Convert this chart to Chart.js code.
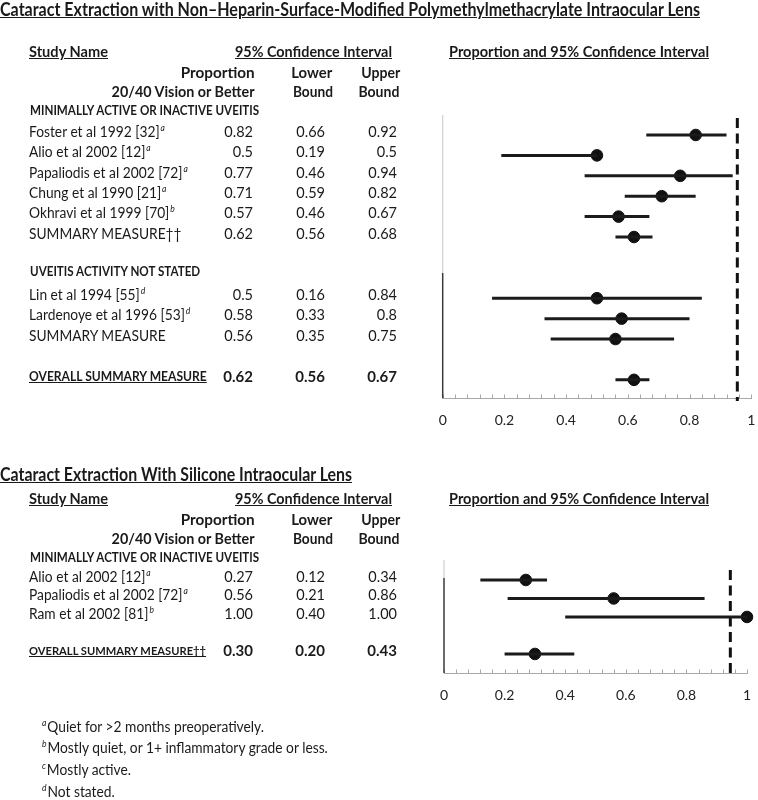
<!DOCTYPE html>
<html>
<head>
<meta charset="utf-8">
<script src="https://cdn.jsdelivr.net/npm/chart.js@4.4.1/dist/chart.umd.min.js"></script>
<style>
  body { margin: 0; background: #fff; }
  #page { position: relative; width: 758px; height: 800px; overflow: hidden; font-family: Lato, "Open Sans", sans-serif; color: #1a1a1a; }
  .t { position: absolute; white-space: nowrap; line-height: 1; }
  .sup { font-size: 9px; font-style: italic; position: relative; top: -6px; margin-left: 1px; }
  canvas { position: absolute; left: 0; }
</style>
</head>
<body>
<div id="page">
  <canvas id="pmmaChart" width="758" height="440" style="top:0"></canvas>
  <canvas id="siliChart" width="758" height="300" style="top:440px"></canvas>
</div>
<script>
// Data - PMMA lens (top panel)
const pmmaHeaders = ['MINIMALLY ACTIVE OR INACTIVE UVEITIS', 'UVEITIS ACTIVITY NOT STATED'];
const pmmaNames = ['Foster et al 1992 [32]', 'Alio et al 2002 [12]', 'Papaliodis et al 2002 [72]', 'Chung et al 1990 [21]',
  'Okhravi et al 1999 [70]', 'SUMMARY MEASURE\u2020\u2020', 'Lin et al 1994 [55]', 'Lardenoye et al 1996 [53]',
  'SUMMARY MEASURE', 'OVERALL SUMMARY MEASURE'];
const pmmaNotes = ['a', 'a', 'a', 'a', 'b', '', 'd', 'd', '', ''];
const pmmaGroup = [0, 0, 0, 0, 0, 0, 1, 1, 1, -1];   // -1 = overall summary
const pmmaProp  = [0.82, 0.5, 0.77, 0.71, 0.57, 0.62, 0.5, 0.58, 0.56, 0.62];
const pmmaLower = [0.66, 0.19, 0.46, 0.59, 0.46, 0.56, 0.16, 0.33, 0.35, 0.56];
const pmmaUpper = [0.92, 0.5, 0.94, 0.82, 0.67, 0.68, 0.84, 0.8, 0.75, 0.67];
const pmmaRef = 0.955;

// Data - silicone lens (bottom panel)
const siliHeaders = ['MINIMALLY ACTIVE OR INACTIVE UVEITIS'];
const siliNames = ['Alio et al 2002 [12]', 'Papaliodis et al 2002 [72]', 'Ram et al 2002 [81]', 'OVERALL SUMMARY MEASURE\u2020\u2020'];
const siliNotes = ['a', 'a', 'b', ''];
const siliGroup = [0, 0, 0, -1];
const siliProp  = [0.27, 0.56, 1.00, 0.30];
const siliLower = [0.12, 0.21, 0.40, 0.20];
const siliUpper = [0.34, 0.86, 1.00, 0.43];
const siliRef = 0.945;

const xTickStep = 0.2;
const minorStep = 0.04;

const footLetters = ['a', 'b', 'c', 'd'];
const footTexts = ['Quiet for >2 months preoperatively.', 'Mostly quiet, or 1+ inflammatory grade or less.', 'Mostly active.', 'Not stated.'];

Chart.defaults.font.family = 'Lato, "Open Sans", sans-serif';
Chart.defaults.color = '#222';

const page = document.getElementById('page');

// header row, its studies, a blank line; overall summary after the last blank
function layoutRows(groups) {
  const rows = [], heads = [];
  let r = -1, cur = null;
  groups.forEach(g => {
    if (g !== cur) {
      if (cur !== null) r++;
      if (g >= 0) { heads.push(r); r++; }
      cur = g;
    }
    rows.push(r); r++;
  });
  return { rows, heads };
}

// put a text at x, centred on cy
function txt(html, x, cy, o) {
  o = o || {};
  const d = document.createElement('div');
  d.className = 't';
  d.innerHTML = html;
  d.style.fontSize = (o.size || 14) + 'px';
  if (o.bold) d.style.fontWeight = 'bold';
  if (o.u) d.style.textDecoration = 'underline';
  page.appendChild(d);
  const r = d.getBoundingClientRect();
  const w = r.width, h = r.height;
  const align = o.align || 'left';
  const left = align === 'left' ? x : align === 'right' ? x - w : x - w / 2;
  d.style.left = left + 'px';
  d.style.top = (cy - h / 2) + 'px';
  d.style.transformOrigin = align === 'left' ? 'left center' : align === 'right' ? 'right center' : 'center center';
  const s = o.width ? o.width / w : (o.sx || 1);
  if (s !== 1) d.style.transform = 'scaleX(' + s + ')';
  return d;
}

// axis lines, minor ticks and the dashed reference line
const forestExtras = {
  id: 'forestExtras',
  beforeDatasetsDraw(chart, args, opts) {
    const { ctx, chartArea: a, scales: { x } } = chart;
    ctx.save();
    // minor ticks
    ctx.strokeStyle = '#a8a8a8';
    ctx.lineWidth = 1;
    const n = Math.round((x.max - x.min) / minorStep);
    for (let k = 0; k <= n; k++) {
      const px = Math.round(x.getPixelForValue(x.min + k * minorStep)) + 0.5;
      ctx.beginPath();
      ctx.moveTo(px, a.bottom);
      ctx.lineTo(px, a.bottom - 3.5);
      ctx.stroke();
    }
    // left axis line (upper part lighter)
    const x0 = x.getPixelForValue(0);
    ctx.strokeStyle = '#cfcfcf';
    ctx.lineWidth = 1.2;
    ctx.beginPath();
    ctx.moveTo(x0, a.top);
    ctx.lineTo(x0, a.top + opts.lightPart);
    ctx.stroke();
    ctx.strokeStyle = '#3a3a3a';
    ctx.lineWidth = 1.5;
    ctx.beginPath();
    ctx.moveTo(x0, a.top + opts.lightPart);
    ctx.lineTo(x0, a.bottom);
    ctx.stroke();
    // dashed reference line
    const xr = x.getPixelForValue(opts.ref);
    ctx.strokeStyle = '#111';
    ctx.lineWidth = 3;
    ctx.setLineDash([10, 5.5]);
    ctx.beginPath();
    ctx.moveTo(xr, a.top + opts.dashStart);
    ctx.lineTo(xr, a.bottom + 3);
    ctx.stroke();
    ctx.restore();
  }
};

function forestChart(id, rows, prop, lower, upper, ref, yMin, yMax, pad, extra) {
  const ci = [];
  rows.forEach((r, i) => {
    ci.push({ x: lower[i], y: r }, { x: upper[i], y: r }, { x: NaN, y: NaN });
  });
  const pts = rows.map((r, i) => ({ x: prop[i], y: r }));
  return new Chart(document.getElementById(id), {
    type: 'scatter',
    data: {
      datasets: [
        { type: 'line', data: ci, borderColor: '#1b1b1b', borderWidth: 3, pointRadius: 0, spanGaps: false, clip: false, borderCapStyle: 'butt' },
        { data: pts, backgroundColor: '#111', borderColor: '#111', pointRadius: 5.8, pointHoverRadius: 5.8, clip: false }
      ]
    },
    options: {
      responsive: false,
      animation: false,
      events: [],
      layout: { padding: pad },
      plugins: { legend: { display: false }, tooltip: { enabled: false }, forestExtras: Object.assign({ ref }, extra) },
      scales: {
        x: {
          type: 'linear', min: 0, max: 1,
          grid: { display: false },
          border: { display: true, color: '#a9a9a9', width: 1 },
          ticks: {
            stepSize: xTickStep, padding: 6, font: { size: 14 }, color: '#222',
            callback: v => String(Math.round(v * 10) / 10)
          },
          // fixed axis height, and no extra side padding for the end labels
          afterFit: s => { s.height = 40; s.paddingLeft = 0; s.paddingRight = 0; }
        },
        y: { type: 'linear', display: false, reverse: true, min: yMin, max: yMax }
      }
    },
    plugins: [forestExtras]
  });
}

function noteHtml(name, note) {
  return name + (note ? '<span class="sup">' + note + '</span>' : '');
}

function drawTable(names, notes, groups, headers, prop, lower, upper, fmt, yOf, off, overallSize) {
  const lay = layoutRows(groups);
  // column headings
  txt('Study Name', 29, 51 + off, { bold: true, u: true, size: 15, width: 79 });
  txt('95% Confidence Interval', 235, 51 + off, { bold: true, u: true, size: 15, width: 157 });
  txt('Proportion', 255, 72 + off, { bold: true, size: 15, align: 'right', width: 74 });
  txt('20/40 Vision or Better', 255, 91 + off, { bold: true, size: 15, align: 'right', width: 143 });
  txt('Lower', 312, 72 + off, { bold: true, size: 15, align: 'center', width: 41 });
  txt('Bound', 313, 91 + off, { bold: true, size: 15, align: 'center', width: 40 });
  txt('Upper', 381, 72 + off, { bold: true, size: 15, align: 'center', width: 39 });
  txt('Bound', 379, 91 + off, { bold: true, size: 15, align: 'center', width: 41 });
  txt('Proportion and 95% Confidence Interval', 449, 51 + off, { bold: true, u: true, size: 15, width: 260 });
  headers.forEach((h, i) => {
    txt(h, 30, yOf(lay.heads[i]) - 3 - (i > 0 ? 3 : 0), { bold: true, size: 12.5, sx: 0.93 });
  });
  names.forEach((n, i) => {
    const cy = yOf(lay.rows[i]) - 3;
    const overall = groups[i] < 0;
    if (overall) {
      txt(n, 29, cy, { bold: true, u: true, size: overallSize, sx: 0.93 });
    } else {
      txt(noteHtml(n, notes[i]), 29, cy, { size: 14.5, sx: 0.95 });
    }
    const o = { size: overall ? 15 : 14.5, bold: overall, align: 'right' };
    txt(fmt(prop[i]), 253, cy, o);
    txt(fmt(lower[i]), 325, cy, o);
    txt(fmt(upper[i]), 397, cy, o);
  });
}

// top panel
const pmmaLay = layoutRows(pmmaGroup);
const pmmaChart = forestChart('pmmaChart', pmmaLay.rows, pmmaProp, pmmaLower, pmmaUpper, pmmaRef,
  -0.98, 12.89, { left: 442.7, right: 2.5, top: 115, bottom: 2 }, { lightPart: 158, dashStart: 3 });
txt('Cataract Extraction with Non\u2013Heparin-Surface-Modified Polymethylmethacrylate Intraocular Lens', 0, 9,
  { bold: true, u: true, size: 18, width: 700 });
drawTable(pmmaNames, pmmaNotes, pmmaGroup, pmmaHeaders, pmmaProp, pmmaLower, pmmaUpper,
  v => String(v), r => pmmaChart.scales.y.getPixelForValue(r), 0, 13);

// bottom panel
const siliLay = layoutRows(siliGroup);
const siliChart = forestChart('siliChart', siliLay.rows, siliProp, siliLower, siliUpper, siliRef,
  -1.08, 5.03, { left: 444, right: 11, top: 120, bottom: 27 }, { lightPart: 18, dashStart: 10 });
txt('Cataract Extraction With Silicone Intraocular Lens', 0, 474, { bold: true, u: true, size: 18, width: 352 });
drawTable(siliNames, siliNotes, siliGroup, siliHeaders, siliProp, siliLower, siliUpper,
  v => v.toFixed(2), r => 440 + siliChart.scales.y.getPixelForValue(r), 447, 12);

// footnotes
footLetters.forEach((l, i) => {
  txt('<span class="sup" style="margin-left:0;margin-right:1px">' + l + '</span>' + footTexts[i], 42, 727 + i * 21.7, { size: 14.5, sx: 0.95 });
});
</script>
</body>
</html>
